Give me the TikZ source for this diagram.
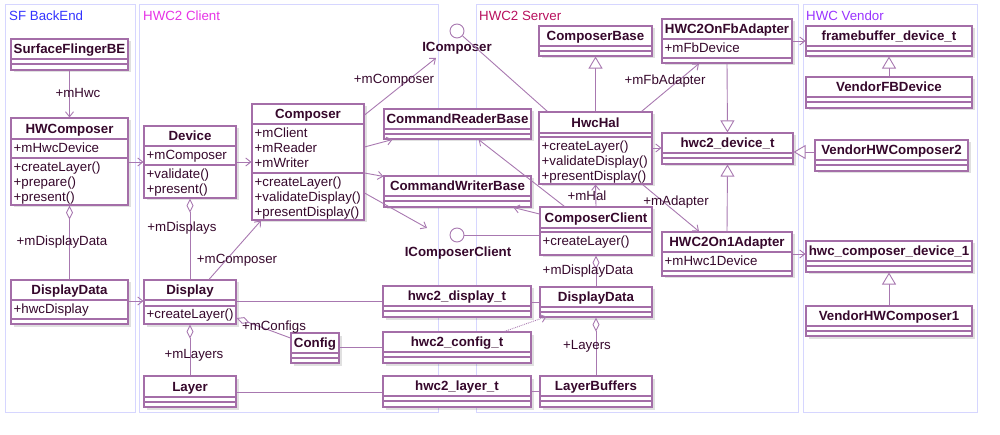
\documentclass[tikz,border=0pt]{standalone}
\usepackage{fontspec}
\setmainfont{Liberation Sans}
\usetikzlibrary{arrows.meta,shadows,calc}
\definecolor{boxc}{HTML}{A46EA8}
\definecolor{linec}{HTML}{A878B0}
\definecolor{txtc}{HTML}{36082C}
\definecolor{contc}{HTML}{D6D6FF}
\definecolor{sfc}{HTML}{3333FF}
\definecolor{clc}{HTML}{E633E6}
\definecolor{svc}{HTML}{B8105E}
\definecolor{vdc}{HTML}{9933FF}
\newcommand\umlclass[8]{%
  \node[cbox, minimum width={(#4-#2)*1pt}, minimum height={(#5-#3)*1pt}] (#1) at ({(#2+#4)/2},{(#3+#5)/2}) {};
  \draw[cbord] (#2,#6) -- (#4,#6) (#2,#7) -- (#4,#7);
  \node[ctitle] at ({(#2+#4)/2},{(#3+#6)/2+4.9}) {#8};
}
\newcommand\clsmem[3]{\node[cmem] at (#1,#2) {#3};}
\begin{document}
\begin{tikzpicture}[x=1pt,y=-1pt,
  basefont/.style={font=\fontsize{13.3}{14.6}\selectfont},
  cbox/.style={draw=boxc, fill=white, line width=1.1pt, inner sep=0pt,
    drop shadow={shadow xshift=2.5pt, shadow yshift=-2.5pt, fill=black, opacity=0.12}},
  cbord/.style={draw=boxc, line width=1.1pt},
  ctitle/.style={font=\fontsize{13.3}{14.6}\selectfont\bfseries, text=txtc, inner sep=0pt, anchor=base},
  cmem/.style={basefont, text=txtc, anchor=north west, align=left, inner xsep=2.5pt, inner ysep=4pt},
  lbl/.style={basefont, text=txtc, inner sep=0pt},
  ilbl/.style={font=\fontsize{13.3}{14.6}\selectfont\bfseries, text=txtc, inner sep=0pt},
  cont/.style={draw=contc, line width=1pt},
  ctit/.style={basefont, anchor=west, inner sep=0pt},
  conn/.style={draw=linec, line width=0.9pt},
  assoc/.style={conn, -{Straight Barb[length=5pt,width=8pt]}},
  gen/.style={conn, -{Triangle[open,length=12pt,width=14pt,fill=white]}},
  comp/.style={conn, {Diamond[open,length=14pt,width=7pt,fill=white]}-},
  iface/.style={draw=linec, fill=white, line width=0.9pt, circle, minimum size=14pt, inner sep=0pt}
]
\useasboundingbox (0,0) rectangle (1000,435);

% containers
\draw[cont] (5,5) rectangle (135,412);
\draw[cont] (139,5) rectangle (438,412);
\draw[cont] (476,5) rectangle (798,412);
\draw[cont] (803,5) rectangle (977,412);
\node[ctit, text=sfc] (tsf) at (9,16) {SF BackEnd};
\node[ctit, text=clc] (tcl) at (143,16) {HWC2 Client};
\node[ctit, text=svc] (tsv) at (479,16) {HWC2 Server};
\node[ctit, text=vdc] (tvd) at (806,16) {HWC Vendor};

% SF BackEnd
\umlclass{SurfaceFlingerBE}{11}{39}{128}{70}{59}{64}{SurfaceFlingerBE}
\umlclass{HWComposer}{11}{118}{128}{205}{139}{158}{HWComposer}
\clsmem{11}{139}{+mHwcDevice}
\clsmem{11}{158}{+createLayer()\\+prepare()\\+present()}
\umlclass{DisplayDataSF}{11}{280}{128}{324}{300}{319}{DisplayData}
\clsmem{11}{300}{+hwcDisplay}

% HWC2 Client
\umlclass{Device}{144}{126}{236}{198}{146}{165}{Device}
\clsmem{144}{146}{+mComposer}
\clsmem{144}{165}{+validate()\\+present()}
\umlclass{Composer}{252}{104}{364}{220}{124}{173}{Composer}
\clsmem{252}{124}{+mClient\\+mReader\\+mWriter}
\clsmem{252}{173}{+createLayer()\\+validateDisplay()\\+presentDisplay()}
\umlclass{Display}{144}{280}{236}{324}{300}{306}{Display}
\clsmem{144}{305}{+createLayer()}
\umlclass{Layer}{144}{376}{236}{407}{397}{402}{Layer}
\umlclass{Config}{291}{333}{339}{363}{353}{358}{Config}
\umlclass{CommandReaderBase}{384}{109}{531}{139}{129}{134}{CommandReaderBase}
\umlclass{CommandWriterBase}{384}{176}{531}{207}{196}{201}{CommandWriterBase}
\umlclass{hwc2_display_t}{383}{286}{531}{317}{306}{311}{hwc2\_display\_t}
\umlclass{hwc2_config_t}{383}{332}{531}{363}{352}{357}{hwc2\_config\_t}
\umlclass{hwc2_layer_t}{383}{376}{531}{407}{396}{401}{hwc2\_layer\_t}

% interfaces
\node[iface] (IComposer) at (457,31) {};
\node[ilbl] (IComposerLbl) at (457,48) {IComposer};
\node[iface] (IComposerClient) at (457,235) {};
\node[ilbl] (IComposerClientLbl) at (458,253) {IComposerClient};
\coordinate (icEnd) at (436,58);
\coordinate (iccEnd) at (427,228);

% HWC2 Server
\umlclass{ComposerBase}{539}{26}{652}{56}{46}{51}{ComposerBase}
\umlclass{HWC2OnFbAdapter}{662}{19}{792}{63}{39}{58}{HWC2OnFbAdapter}
\clsmem{662}{39}{+mFbDevice}
\umlclass{HwcHal}{539}{112}{652}{184}{133}{137}{HwcHal}
\clsmem{539}{137}{+createLayer()\\+validateDisplay()\\+presentDisplay()}
\umlclass{hwc2_device_t}{662}{133}{793}{164}{153}{158}{hwc2\_device\_t}
\umlclass{ComposerClient}{540}{207}{652}{255}{228}{232}{ComposerClient}
\clsmem{540}{232}{+createLayer()}
\umlclass{HWC2On1Adapter}{662}{232}{792}{276}{252}{271}{HWC2On1Adapter}
\clsmem{662}{252}{+mHwc1Device}
\umlclass{DisplayDataSrv}{540}{287}{652}{317}{307}{312}{DisplayData}
\umlclass{LayerBuffers}{540}{376}{652}{407}{396}{401}{LayerBuffers}

% HWC Vendor
\umlclass{framebuffer_device_t}{806}{26}{972}{56}{46}{51}{framebuffer\_device\_t}
\umlclass{VendorFBDevice}{806}{77}{972}{108}{97}{102}{VendorFBDevice}
\umlclass{VendorHWComposer2}{815}{140}{968}{171}{160}{165}{VendorHWComposer2}
\umlclass{hwc_composer_device_1}{806}{241}{972}{272}{261}{266}{hwc\_composer\_device\_1}
\umlclass{VendorHWComposer1}{806}{306}{972}{336}{326}{331}{VendorHWComposer1}

% connectors: SF BackEnd / Client
\draw[assoc] (SurfaceFlingerBE.south) -- (HWComposer.north);
\node[lbl] at (78,93) {+mHwc};
\draw[assoc] (HWComposer.east |- 0,162) -- (Device.west |- 0,162);
\draw[assoc] (Device.east |- 0,162) -- (Composer.west |- 0,162);
\draw[comp] (HWComposer.south) -- (DisplayDataSF.north);
\node[lbl] at (62,242) {+mDisplayData};
\draw[assoc] (DisplayDataSF.east |- 0,301) -- (Display.west |- 0,301);
\draw[comp] (Device.south) -- (Display.north);
\node[lbl] at (182,228) {+mDisplays};
\draw[assoc] ([xshift=19pt]Display.north) -- ([xshift=-47pt]Composer.south);
\node[lbl] at (237,260) {+mComposer};
\draw[comp] (Display.south) -- (Layer.north);
\node[lbl] at (194,355) {+mLayers};
\draw[comp] (Display.east |- 0,318) -- (Config.west |- 0,338);
\node[lbl] at (274,327) {+mConfigs};
\draw[conn] (Config.east |- 0,347) -- (hwc2_config_t.west |- 0,347);
\draw[conn] (Display.east |- 0,301) -- (hwc2_display_t.west |- 0,301);
\draw[conn] (Layer.east |- 0,392) -- (hwc2_layer_t.west |- 0,392);
\draw[assoc] (Composer.east |- 0,115) -- (icEnd);
\node[lbl] at (394,80) {+mComposer};
\draw[assoc] (Composer.east |- 0,147) -- ([xshift=9pt]CommandReaderBase.south west);
\draw[assoc] (Composer.east |- 0,173) -- ([yshift=-1pt]CommandWriterBase.north west);
\draw[assoc] (Composer.east |- 0,193) -- (iccEnd);

% interfaces to server
\draw[conn] (IComposer) -- ([xshift=9pt]HwcHal.north west);
\draw[conn] (IComposerClient) -- (ComposerClient.west |- IComposerClient);

% HWC2 Server connectors
\draw[gen] (HwcHal.north) -- (ComposerBase.south);
\draw[assoc] ([xshift=-11pt]HwcHal.north east) -- ([xshift=-28pt]HWC2OnFbAdapter.south);
\node[lbl] at (665,81) {+mFbAdapter};
\draw[assoc] (HwcHal.east |- 0,148) -- (hwc2_device_t.west |- 0,148);
\draw[assoc] ([xshift=-10pt]HwcHal.south east) -- ([xshift=-28pt]HWC2On1Adapter.north);
\node[lbl] at (676,202) {+mAdapter};
\draw[gen] (HWC2OnFbAdapter.south) -- (hwc2_device_t.north);
\draw[gen] (HWC2On1Adapter.north) -- (hwc2_device_t.south);
\draw[assoc] (HWC2OnFbAdapter.east |- 0,41) -- (framebuffer_device_t.west |- 0,41);
\draw[assoc] (HWC2On1Adapter.east |- 0,254) -- (hwc_composer_device_1.west |- 0,254);
\draw[assoc] (ComposerClient.north) -- (HwcHal.south);
\node[lbl] at (587,196) {+mHal};
\draw[assoc] (ComposerClient.west |- 0,214) -- ([xshift=-18pt]CommandWriterBase.south east);
\draw[assoc] ([xshift=25pt]ComposerClient.north west) -- ([xshift=-53pt]CommandReaderBase.south east);
\draw[comp] (ComposerClient.south) -- (DisplayDataSrv.north);
\node[lbl] at (588,271) {+mDisplayData};
\draw[comp] (DisplayDataSrv.south) -- (LayerBuffers.north);
\node[lbl] at (587,346) {+Layers};
\draw[conn] (hwc2_display_t.east |- 0,302) -- (DisplayDataSrv.west |- 0,302);
\draw[conn] (hwc2_layer_t.east |- 0,391) -- (LayerBuffers.west |- 0,391);
\draw[assoc, densely dotted] ([xshift=-27pt]hwc2_config_t.north east) -- ([xshift=7pt,yshift=1pt]DisplayDataSrv.south west);

% HWC Vendor connectors
\draw[gen] (VendorFBDevice.north) -- (framebuffer_device_t.south);
\draw[gen] (VendorHWComposer2.west |- 0,152) -- (hwc2_device_t.east |- 0,152);
\draw[gen] (VendorHWComposer1.north) -- (hwc_composer_device_1.south);
\end{tikzpicture}
\end{document}
